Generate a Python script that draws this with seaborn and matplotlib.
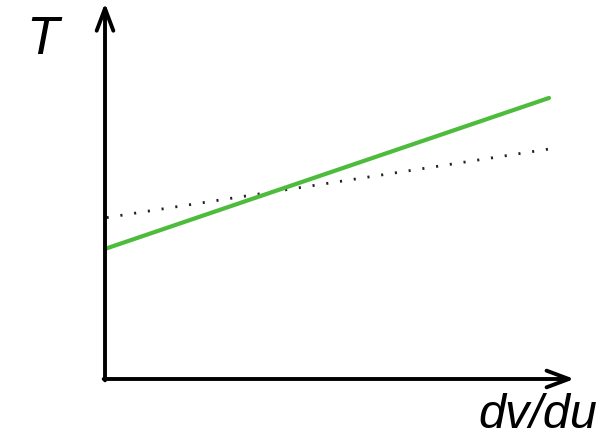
import matplotlib
matplotlib.use("Agg")
import matplotlib.pyplot as plt
import seaborn as sns
import pandas as pd

# Shear rate (dv/du) and stress (T) for two fluid models
rate = [0.0, 10.0]
green_T = [2.93, 6.33]
dotted_T = [3.63, 5.18]

sns.set_theme(style="white")
plt.rcParams["font.family"] = ["Liberation Sans", "DejaVu Sans"]

fig = plt.figure(figsize=(6.15, 4.35), dpi=100)
ax = fig.add_axes([0, 0, 1, 1])

df_green = pd.DataFrame({"rate": rate, "T": green_T})
df_dot = pd.DataFrame({"rate": rate, "T": dotted_T})

sns.lineplot(data=df_dot, x="rate", y="T", ax=ax, color="#222222",
             linewidth=2.0)
dot_line = ax.lines[-1]
dot_line.set_linestyle((4.4, (0.75, 4.25)))
dot_line.set_dash_capstyle("butt")
sns.lineplot(data=df_green, x="rate", y="T", ax=ax, color="#4dbb3b",
             linewidth=3.0)

ax.set_xlim(-2.365, 11.486)
ax.set_ylim(-1.239, 8.559)
ax.axis("off")

# Axes with arrowheads
arrow = dict(arrowstyle="->,head_length=0.8,head_width=0.3", lw=2.8,
             color="black", shrinkA=0, shrinkB=0, mutation_scale=20)
ax.annotate("", xy=(0, 8.47), xytext=(0, -0.03), arrowprops=arrow)
ax.annotate("", xy=(10.57, 0), xytext=(-0.03, 0), arrowprops=arrow)

ax.text(-1.4, 7.65, "T", fontsize=38, fontstyle="italic", color="black",
        ha="center", va="center")
ax.text(11.08, -1.08, "dv/du", fontsize=35, fontstyle="italic",
        color="black", ha="right", va="baseline")

fig.savefig("out.png", dpi=100)
